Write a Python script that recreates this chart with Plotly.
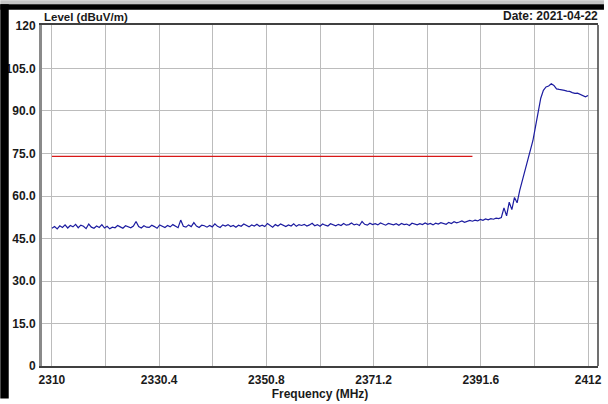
import plotly.graph_objects as go

# Sweep frequencies (MHz)
freq_mhz = [
    2310.0, 2310.5, 2311.0, 2311.5, 2312.0, 2312.5, 2313.0, 2313.5, 2314.0, 2314.5,
    2315.0, 2315.5, 2316.0, 2316.5, 2317.0, 2317.5, 2318.0, 2318.5, 2319.0, 2319.5,
    2320.0, 2320.5, 2321.0, 2321.5, 2322.0, 2322.5, 2323.0, 2323.5, 2324.0, 2324.5,
    2325.0, 2325.5, 2326.0, 2326.5, 2327.0, 2327.5, 2328.0, 2328.5, 2329.0, 2329.5,
    2330.0, 2330.5, 2331.0, 2331.5, 2332.0, 2332.5, 2333.0, 2333.5, 2334.0, 2334.5,
    2335.0, 2335.5, 2336.0, 2336.5, 2337.0, 2337.5, 2338.0, 2338.5, 2339.0, 2339.5,
    2340.0, 2340.5, 2341.0, 2341.5, 2342.0, 2342.5, 2343.0, 2343.5, 2344.0, 2344.5,
    2345.0, 2345.5, 2346.0, 2346.5, 2347.0, 2347.5, 2348.0, 2348.5, 2349.0, 2349.5,
    2350.0, 2350.5, 2351.0, 2351.5, 2352.0, 2352.5, 2353.0, 2353.5, 2354.0, 2354.5,
    2355.0, 2355.5, 2356.0, 2356.5, 2357.0, 2357.5, 2358.0, 2358.5, 2359.0, 2359.5,
    2360.0, 2360.5, 2361.0, 2361.5, 2362.0, 2362.5, 2363.0, 2363.5, 2364.0, 2364.5,
    2365.0, 2365.5, 2366.0, 2366.5, 2367.0, 2367.5, 2368.0, 2368.5, 2369.0, 2369.5,
    2370.0, 2370.5, 2371.0, 2371.5, 2372.0, 2372.5, 2373.0, 2373.5, 2374.0, 2374.5,
    2375.0, 2375.5, 2376.0, 2376.5, 2377.0, 2377.5, 2378.0, 2378.5, 2379.0, 2379.5,
    2380.0, 2380.5, 2381.0, 2381.5, 2382.0, 2382.5, 2383.0, 2383.5, 2384.0, 2384.5,
    2385.0, 2385.5, 2386.0, 2386.5, 2387.0, 2387.5, 2388.0, 2388.5, 2389.0, 2389.5,
    2390.0, 2390.5, 2391.0, 2391.5, 2392.0, 2392.5, 2393.0, 2393.5, 2394.0, 2394.5,
    2395.0, 2395.5, 2396.0, 2396.5, 2397.0, 2397.5, 2398.0, 2398.5, 2399.0, 2399.5,
    2400.0, 2400.5, 2401.0, 2401.5, 2402.0, 2402.5, 2403.0, 2403.5, 2404.0, 2404.5,
    2405.0, 2405.5, 2406.0, 2406.5, 2407.0, 2407.5, 2408.0, 2408.5, 2409.0, 2409.5,
    2410.0, 2410.5, 2411.0, 2411.5, 2412.0,
]

# Measured level (dBuV/m)
level_dbuv = [
    48.6, 49.2, 48.4, 49.5, 48.9, 49.8, 48.7, 49.6, 49.1, 50.0,
    48.8, 49.7, 49.3, 48.5, 50.1, 49.0, 48.6, 49.4, 48.9, 49.9,
    48.7, 49.3, 48.4, 49.0, 48.8, 49.6, 49.1, 48.6, 49.5, 49.0,
    48.8, 49.4, 51.0, 49.2, 48.7, 49.5, 49.0, 48.9, 49.7, 49.2,
    48.6, 49.8, 49.3, 48.9, 49.6, 49.1, 49.9, 49.4, 48.8, 51.5,
    49.3, 49.0, 49.8, 49.2, 50.6, 49.4, 48.9, 49.7, 49.5, 49.0,
    49.6, 49.1, 50.2, 49.3, 48.9, 49.8, 49.4, 49.9, 49.2, 49.6,
    49.0, 49.7, 49.3, 50.1, 49.5, 49.1, 49.8, 49.4, 50.0, 49.3,
    49.7, 49.2, 50.3, 49.5, 49.0, 49.9, 49.4, 50.1, 49.6, 49.2,
    49.8, 49.4, 50.2, 49.3, 49.9, 49.6, 50.0, 49.4, 49.8, 50.4,
    49.5, 49.9, 49.3, 50.1, 49.7, 49.4, 50.2, 49.8, 49.5, 50.0,
    49.6, 50.3, 49.7, 49.9, 50.5, 49.8, 50.1, 49.6, 51.0, 50.0,
    49.7, 50.4, 49.9, 50.2, 49.8, 50.5, 50.0, 49.7, 50.3, 50.1,
    49.8, 50.2, 49.7, 50.3, 49.9, 50.1, 49.6, 50.4, 50.0, 49.8,
    50.2, 49.9, 50.5, 50.0, 50.3, 49.8, 50.4, 50.1, 50.6, 50.2,
    50.0, 50.7, 50.3, 50.9, 50.5, 50.8, 51.2, 50.7, 51.0, 51.4,
    51.1, 51.5, 51.2, 51.7, 51.4, 51.9, 51.6, 52.0, 51.8, 52.2,
    52.0, 52.4, 55.8, 53.0, 57.8, 55.2, 59.5, 57.6, 62.0, 65.5,
    69.0, 72.5, 76.0, 79.5, 84.5, 90.0, 94.5, 97.3, 98.5, 98.8,
    99.6, 99.0, 97.8, 97.6, 97.5, 97.3, 97.0, 96.9, 96.5, 96.2,
    96.3, 95.8, 95.6, 95.0, 95.5,
]

# Limit line
limit_freq = [2310.0, 2390.0]
limit_level = [74.0, 74.0]

# Axis ticks
x_grid = [2310, 2320.2, 2330.4, 2340.6, 2350.8, 2361.0, 2371.2, 2381.4, 2391.6, 2401.8, 2412]
x_text = ["2310", "", "2330.4", "", "2350.8", "", "2371.2", "", "2391.6", "", "2412"]
y_grid = [0, 15, 30, 45, 60, 75, 90, 105, 120]
y_text = ["0", "15.0", "30.0", "45.0", "60.0", "75.0", "90.0", "105.0", "120"]

FONT = "Liberation Sans"

fig = go.Figure()
fig.add_trace(go.Scatter(x=limit_freq, y=limit_level, mode="lines",
                         line=dict(color="#d81818", width=1.2), hoverinfo="skip"))
fig.add_trace(go.Scatter(x=freq_mhz, y=level_dbuv, mode="lines",
                         line=dict(color="#1c1ca0", width=1.2)))

L, R, T, B = 42, 6, 25, 33
W, H = 608, 404
pw, ph = W - L - R, H - T - B


def px(x):
    return (x - L) / pw


def py(y):
    return (H - B - y) / ph


shapes = [
    dict(type="rect", xref="paper", yref="paper", x0=px(0), x1=px(W), y0=py(4), y1=py(0),
         fillcolor="#c4c4c4", line=dict(width=0), layer="above"),
    dict(type="rect", xref="paper", yref="paper", x0=px(0), x1=px(W), y0=py(9.5), y1=py(4),
         fillcolor="#000000", line=dict(width=0), layer="above"),
    dict(type="rect", xref="paper", yref="paper", x0=px(0), x1=px(8.5), y0=py(H), y1=py(4),
         fillcolor="#000000", line=dict(width=0), layer="above"),
    dict(type="line", xref="paper", yref="paper", x0=1, x1=1, y0=0, y1=1,
         line=dict(color="#404040", width=1.5), layer="above"),
]

fig.update_layout(
    width=W, height=H,
    margin=dict(l=L, r=R, t=T, b=B, pad=0),
    paper_bgcolor="white", plot_bgcolor="white",
    showlegend=False,
    shapes=shapes,
    xaxis=dict(
        range=[2308.11, 2413.89], tickmode="array", tickvals=x_grid, ticktext=x_text,
        showgrid=True, gridcolor="#bcbcbc", gridwidth=1, zeroline=False,
        showline=True, mirror=True, linecolor="#404040", linewidth=1.5,
        ticks="", ticklabelstandoff=2,
        tickfont=dict(family=FONT, size=12, color="#1a1a1a", weight="bold"),
        title=dict(text="Frequency (MHz)", standoff=2,
                   font=dict(family=FONT, size=12, color="#1a1a1a", weight="bold")),
    ),
    yaxis=dict(
        range=[0, 120.35], tickmode="array", tickvals=y_grid, ticktext=y_text,
        showgrid=True, gridcolor="#bcbcbc", gridwidth=1, zeroline=False,
        showline=True, linecolor="#8a8a8a", linewidth=3,
        ticks="", ticklabelstandoff=1,
        tickfont=dict(family=FONT, size=12, color="#1a1a1a", weight="bold"),
    ),
    annotations=[
        dict(text="Level (dBuV/m)", xref="paper", yref="paper", x=px(42), y=py(17),
             xanchor="left", yanchor="middle", showarrow=False,
             font=dict(family=FONT, size=11.5, color="#1a1a1a", weight="bold")),
        dict(text="Date: 2021-04-22", xref="paper", yref="paper", x=px(604), y=py(16),
             xanchor="right", yanchor="middle", showarrow=False,
             font=dict(family=FONT, size=12, color="#1a1a1a", weight="bold")),
    ],
)

fig.write_html(
    "out.html",
    config={"displayModeBar": False},
    post_script="document.body.style.margin='0';document.body.style.overflow='hidden';",
)
